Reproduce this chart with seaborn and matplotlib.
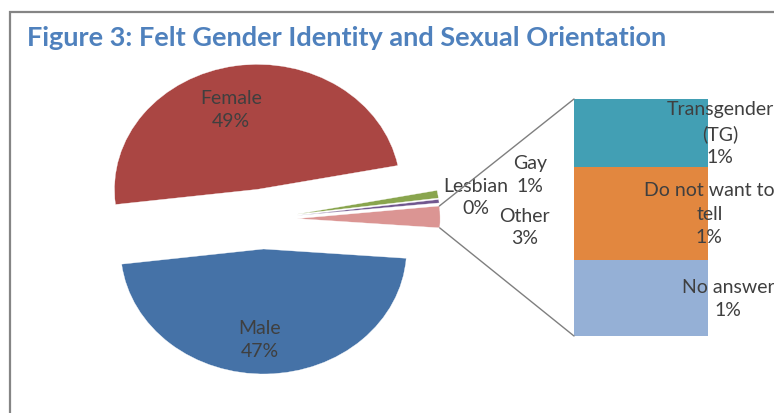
import numpy as np
import matplotlib
matplotlib.use("Agg")
import matplotlib.pyplot as plt
from matplotlib.patches import ConnectionPatch, Rectangle
import seaborn as sns

# --- dati ---
other_cats = ["No answer", "Do not want to\ntell", "Transgender\n(TG)"]
other_values = [0.9, 1.1, 0.8]
other_pct = ["1%", "1%", "1%"]
other_colors = ["#95B0D6", "#E2873F", "#429FB4"]

other_total = sum(other_values)

pie_cats = ["Female", "Male", "Other", "Lesbian", "Gay"]
pie_values = [49, 47, other_total, 0.45, 1.0]
pie_pct = ["49%", "47%", "3%", "0%", "1%"]
pie_colors = ["#AA4643", "#4572A7", "#DB9593", "#71588F", "#89A54E"]

# posizioni delle etichette (coordinate dati della torta)
pie_label_pos = [(-0.22, 0.88), (-0.02, -0.96), (1.83, -0.06), (1.49, 0.18), (1.87, 0.36)]
# centro orizzontale delle etichette della barra
bar_label_x = [0.65, 0.51, 0.59]

sns.set_theme(style="white")
plt.rcParams['font.family'] = ['Lato', 'DejaVu Sans']

fig = plt.figure(figsize=(7.74, 4.14), dpi=100)
W, H = 774, 414

# cornice grigia
fig.add_artist(Rectangle((10 / W, -0.1), 1.2, (H - 13) / H + 0.1, transform=fig.transFigure,
                         fill=False, edgecolor="#858585", linewidth=1.6))

fig.text(27 / W, 1 - 38 / H, "Figure 3: Felt Gender Identity and Sexual Orientation",
         ha="left", va="center", fontsize=19.5, fontweight="bold", color="#4F81BD")

# --- torta ---
ax_pie = fig.add_axes([34 / W, 6.5 / H, 457.6 / W, 375 / H])
wedges, _ = ax_pie.pie(pie_values, colors=pie_colors, explode=[0.24] * len(pie_values),
                       startangle=11, counterclock=True,
                       wedgeprops=dict(linewidth=0.25, edgecolor="white"))
ax_pie.set_aspect("auto")
ax_pie.set_xlim(-1.6, 1.6)
ax_pie.set_ylim(-1.5, 1.5)
ax_pie.axis("off")

for (x, y), cat, pct in zip(pie_label_pos, pie_cats, pie_pct):
    ax_pie.text(x, y, f"{cat}\n{pct}", ha="center", va="center", fontsize=14,
                color="#3F3F3F", linespacing=1.4)

# --- barra impilata ---
ax_bar = fig.add_axes([574 / W, (H - 337) / H, 134 / W, 237 / H])
cum = np.cumsum(other_values)
for i in reversed(range(len(other_values))):
    sns.barplot(x=[0], y=[cum[i]], color=other_colors[i], width=1, saturation=1,
                ax=ax_bar, linewidth=0)
ax_bar.set_xlim(-0.5, 0.5)
ax_bar.set_ylim(0, other_total)
ax_bar.axis("off")

starts = np.concatenate([[0], cum[:-1]])
for xl, s, v, cat, pct in zip(bar_label_x, starts, other_values, other_cats, other_pct):
    ax_bar.text(xl, s + v / 2, f"{cat}\n{pct}", ha="center", va="center", fontsize=14,
                color="#3F3F3F", linespacing=1.45, clip_on=False)

# --- linee di collegamento ---
w = wedges[2]
cx, cy = w.center
t1, t2 = np.radians(w.theta1), np.radians(w.theta2)
top = (cx + w.r * np.cos(t2), cy + w.r * np.sin(t2))
bot = (cx + w.r * np.cos(t1), cy + w.r * np.sin(t1))
for pa, pb in [(top, (-0.5, other_total)), (bot, (-0.5, 0))]:
    con = ConnectionPatch(xyA=pa, coordsA=ax_pie.transData, xyB=pb, coordsB=ax_bar.transData,
                          color="#7F7F7F", linewidth=1)
    fig.add_artist(con)

fig.savefig("out.png", dpi=100)
